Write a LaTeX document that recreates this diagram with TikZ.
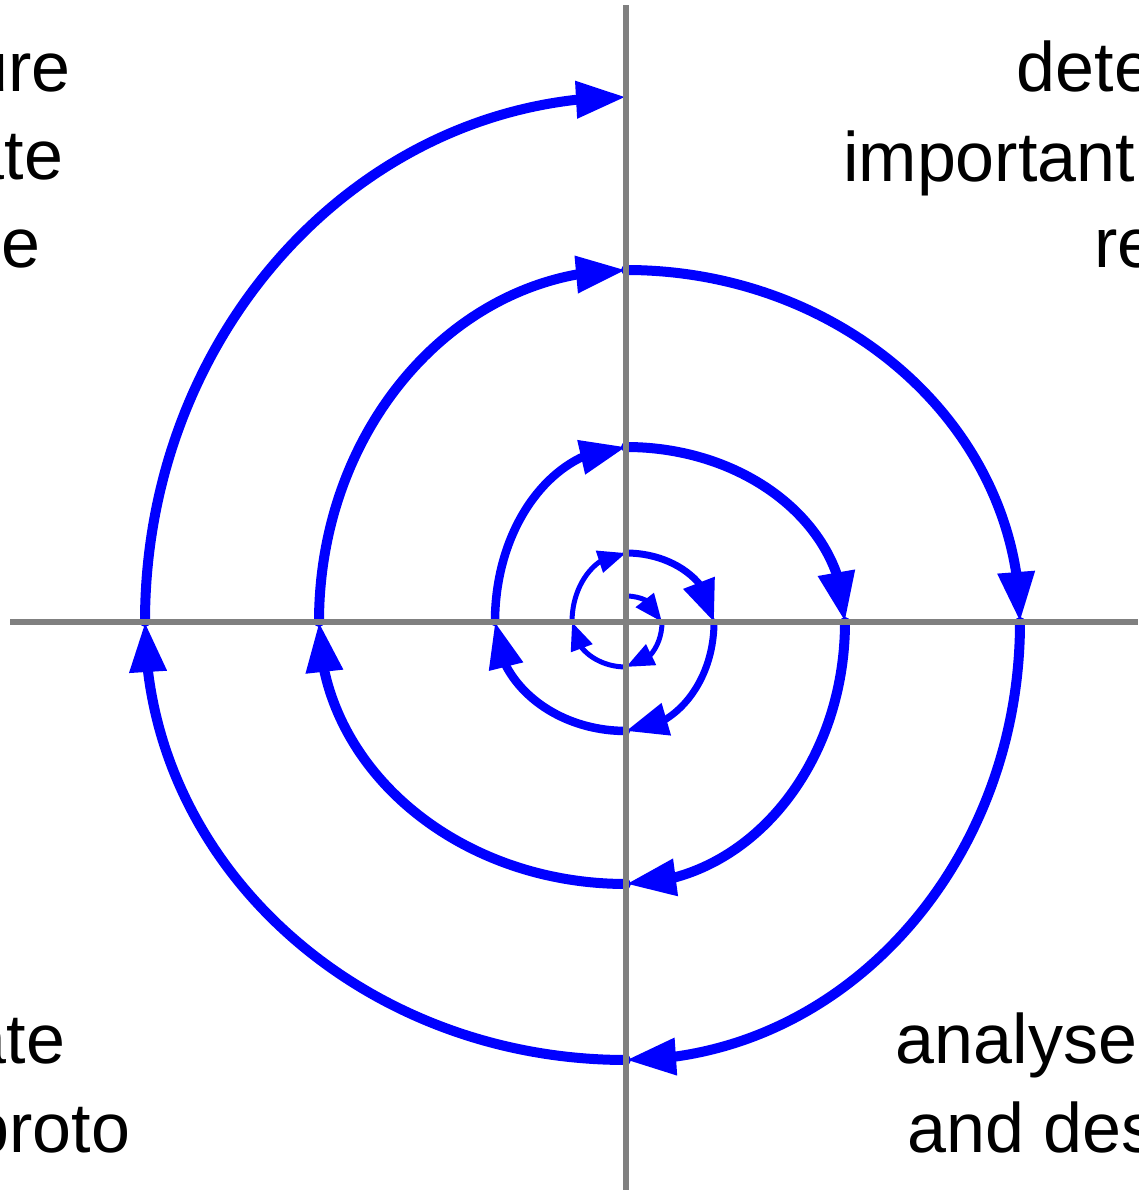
\documentclass[tikz,border=0pt]{standalone}
\usepackage{fontspec}
\setmainfont{Liberation Sans}
\usetikzlibrary{arrows.meta,bending}
\begin{document}
\begin{tikzpicture}[x=1pt,y=1pt,
  spA/.style={draw=blue,line width=5pt,line cap=round,-{Triangle[length=28pt,width=22pt,flex]}},
  spB/.style={draw=blue,line width=7pt,line cap=round,-{Triangle[length=42pt,width=32pt,flex]}},
  spBB/.style={draw=blue,line width=8.5pt,line cap=round,-{Triangle[length=46pt,width=33pt,flex]}},
  spC/.style={draw=blue,line width=10pt,line cap=round,-{Triangle[length=50pt,width=35pt,flex]}},
  axis/.style={draw=gray,line width=6pt},
  lbl/.style={inner sep=0pt,font=\fontsize{70}{88}\selectfont}]
\useasboundingbox (0,0) rectangle (1138,1193);
% spiral
\coordinate (s0) at (626,597);
\draw[spA] (s0)  arc[start angle=90,  end angle=0,    x radius=36,  y radius=26]  coordinate (s1);
\draw[spA] (s1)  arc[start angle=0,   end angle=-90,  x radius=36,  y radius=45]  coordinate (s2);
\draw[spA] (s2)  arc[start angle=-90, end angle=-180, x radius=54,  y radius=45]  coordinate (s3);
\draw[spA] (s3)  arc[start angle=180, end angle=90,   x radius=54,  y radius=69]  coordinate (s4);
\draw[spB] (s4)  arc[start angle=90,  end angle=0,    x radius=88,  y radius=69]  coordinate (s5);
\draw[spB] (s5)  arc[start angle=0,   end angle=-90,  x radius=88,  y radius=109] coordinate (s6);
\draw[spBB] (s6)  arc[start angle=-90, end angle=-180, x radius=131, y radius=109] coordinate (s7);
\draw[spBB] (s7)  arc[start angle=180, end angle=90,   x radius=131, y radius=175] coordinate (s8);
\draw[spC] (s8)  arc[start angle=90,  end angle=0,    x radius=219, y radius=175] coordinate (s9);
\draw[spC] (s9)  arc[start angle=0,   end angle=-90,  x radius=219, y radius=262] coordinate (s10);
\draw[spC] (s10) arc[start angle=-90, end angle=-180, x radius=307, y radius=262] coordinate (s11);
\draw[spC] (s11) arc[start angle=180, end angle=90,   x radius=307, y radius=352] coordinate (s12);
\draw[spC] (s12) arc[start angle=90,  end angle=0,    x radius=394, y radius=352] coordinate (s13);
\draw[spC] (s13) arc[start angle=0,   end angle=-90,  x radius=394, y radius=438] coordinate (s14);
\draw[spC] (s14) arc[start angle=-90, end angle=-180, x radius=481, y radius=438] coordinate (s15);
\draw[spC] (s15) arc[start angle=180, end angle=90,   x radius=481, y radius=525] coordinate (s16);
% axes
\coordinate (xl) at (10,571);
\coordinate (xr) at (1138,571);
\coordinate (yt) at (626,1188);
\coordinate (yb) at (626,3);
\draw[axis] (xl) -- (xr);
\draw[axis] (yb) -- (yt);
% texts
\node[lbl,anchor=base east] (tl1) at (70.5,1101) {ure};
\node[lbl,anchor=base east] (tl2) at (63.5,1013) {ate};
\node[lbl,anchor=base east] (tl3) at (40.5,925) {e};
\node[lbl,anchor=base west] (tr1) at (1016.5,1101) {dete};
\node[lbl,anchor=base west] (tr2) at (843,1011) {important};
\node[lbl,anchor=base west] (tr3) at (1094,925) {re};
\node[lbl,anchor=base east] (bl1) at (65.5,129) {ate};
\node[lbl,anchor=base east] (bl2) at (130.5,40) {proto};
\node[lbl,anchor=base west] (br1) at (895.5,129) {analyse};
\node[lbl,anchor=base west] (br2) at (907.5,40) {and des};
\end{tikzpicture}
\end{document}
